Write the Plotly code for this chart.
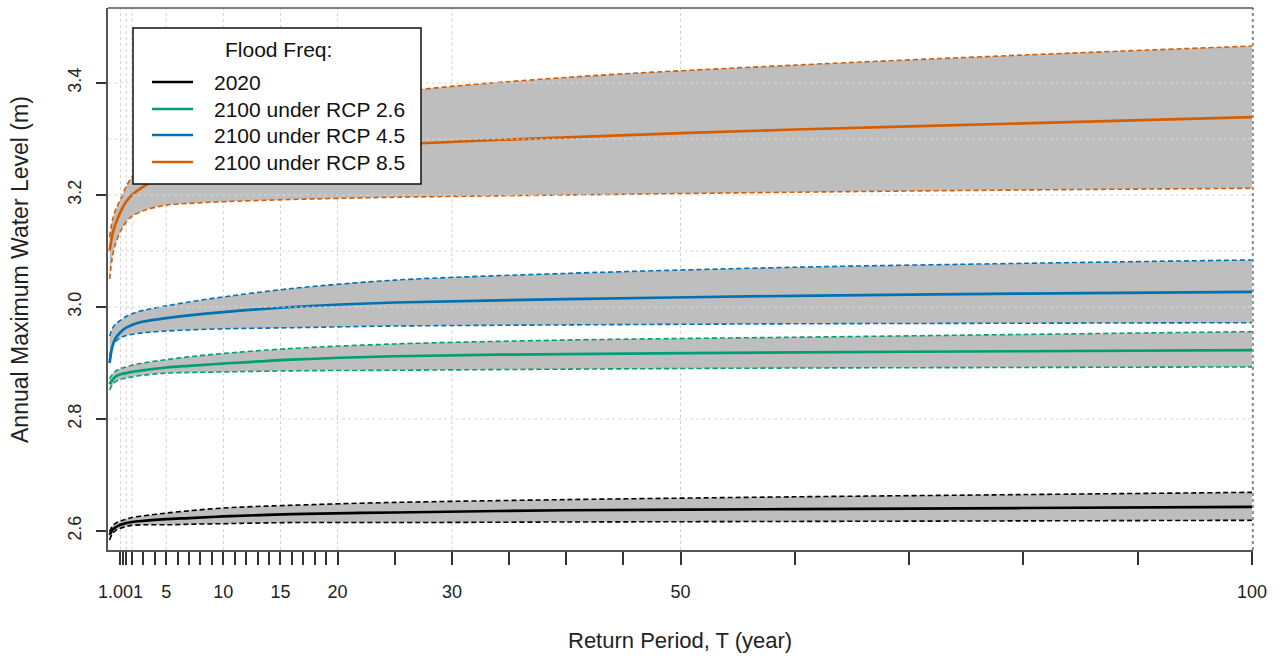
import plotly.graph_objects as go

# ---------------- data ----------------
T = [0.05, 0.3, 0.6, 1.0, 1.5, 2, 3, 5, 7, 10, 16, 25, 40, 60, 80, 100]

m2020 = [2.593, 2.602, 2.607, 2.611, 2.614, 2.616, 2.618, 2.621, 2.623, 2.626, 2.630, 2.633, 2.637, 2.639, 2.641, 2.643]
u2020 = [2.599, 2.609, 2.614, 2.618, 2.621, 2.624, 2.627, 2.632, 2.636, 2.641, 2.646, 2.651, 2.656, 2.661, 2.665, 2.669]
l2020 = [2.584, 2.595, 2.601, 2.605, 2.608, 2.610, 2.611, 2.611, 2.612, 2.613, 2.615, 2.615, 2.616, 2.617, 2.618, 2.619]

m26 = [2.862, 2.870, 2.876, 2.880, 2.882, 2.884, 2.887, 2.892, 2.895, 2.899, 2.906, 2.912, 2.916, 2.919, 2.921, 2.923]
u26 = [2.872, 2.880, 2.886, 2.890, 2.893, 2.896, 2.900, 2.906, 2.911, 2.917, 2.926, 2.934, 2.941, 2.946, 2.951, 2.956]
l26 = [2.852, 2.861, 2.867, 2.871, 2.873, 2.875, 2.878, 2.882, 2.883, 2.884, 2.886, 2.887, 2.889, 2.891, 2.892, 2.893]

m45 = [2.900, 2.930, 2.945, 2.955, 2.963, 2.968, 2.974, 2.980, 2.985, 2.991, 3.000, 3.008, 3.014, 3.020, 3.024, 3.027]
u45 = [2.948, 2.962, 2.970, 2.976, 2.983, 2.988, 2.994, 3.002, 3.009, 3.018, 3.033, 3.048, 3.060, 3.071, 3.078, 3.084]
l45 = [2.912, 2.930, 2.939, 2.945, 2.949, 2.951, 2.954, 2.957, 2.959, 2.961, 2.963, 2.966, 2.968, 2.970, 2.971, 2.972]

m85 = [3.100, 3.130, 3.150, 3.170, 3.188, 3.200, 3.215, 3.238, 3.250, 3.262, 3.277, 3.290, 3.303, 3.317, 3.328, 3.339]
u85 = [3.125, 3.155, 3.175, 3.192, 3.215, 3.232, 3.252, 3.280, 3.298, 3.318, 3.350, 3.383, 3.410, 3.432, 3.450, 3.466]
l85 = [3.050, 3.090, 3.115, 3.135, 3.152, 3.162, 3.172, 3.182, 3.185, 3.188, 3.192, 3.196, 3.200, 3.205, 3.209, 3.212]

series_names = ["2020", "2100 under RCP 2.6", "2100 under RCP 4.5", "2100 under RCP 8.5"]
series_colors = ["#000000", "#009E73", "#0072B2", "#D55E00"]

x_tick_vals = [1.001, 1.25, 1.5] + list(range(2, 21)) + [25, 30, 35, 40, 45, 50, 60, 70, 80, 90, 100]
x_labels = {1.001: "1.001", 5: "5", 10: "10", 15: "15", 20: "20", 30: "30", 50: "50", 100: "100"}
x_grid = [1.001, 1.5, 2, 5, 10, 15, 20, 30, 50, 100]
y_tick_vals = [2.6, 2.8, 3.0, 3.2, 3.4]
y_grid = [2.8, 3.0, 3.1, 3.2, 3.3, 3.4]

# ---------------- layout constants ----------------
W, H = 1280, 656
L, R, TOP, B = 108, 27, 8, 106
PW, PH = W - L - R, H - TOP - B
XR = [-0.09, 100.09]
YR = [2.566, 3.534]
FONT = "Liberation Sans, Arial, sans-serif"


def px(x):
    return (x - L) / PW


def py(y):
    return (H - B - y) / PH


fig = go.Figure()

groups = [(m2020, u2020, l2020), (m26, u26, l26), (m45, u45, l45), (m85, u85, l85)]
SM = 0.9
for (m, u, l), name, col in zip(groups, series_names, series_colors):
    fig.add_trace(go.Scatter(x=T, y=u, mode="lines", line=dict(width=0, shape="spline", smoothing=SM),
                             showlegend=False, hoverinfo="skip"))
    fig.add_trace(go.Scatter(x=T, y=l, mode="lines", fill="tonexty", fillcolor="#BEBEBE",
                             line=dict(width=0, shape="spline", smoothing=SM),
                             showlegend=False, hoverinfo="skip"))
for (m, u, l), name, col in zip(groups, series_names, series_colors):
    for bnd in (u, l):
        fig.add_trace(go.Scatter(x=T, y=bnd, mode="lines", showlegend=False,
                                 line=dict(color=col, width=1.6, dash="5px,3px",
                                           shape="spline", smoothing=SM)))
    fig.add_trace(go.Scatter(x=T, y=m, mode="lines", name=name, showlegend=False,
                             line=dict(color=col, width=2.7, shape="spline", smoothing=SM)))

shapes = []
# vertical grid (below)
for g in x_grid:
    shapes.append(dict(type="line", xref="x", yref="paper", x0=g, x1=g, y0=0, y1=1,
                       line=dict(color="#D0D0D0", width=1, dash="dot"), layer="below"))
# horizontal grid (above, faint)
for g in y_grid:
    shapes.append(dict(type="line", xref="paper", yref="y", x0=0, x1=1, y0=g, y1=g,
                       line=dict(color="#D8D8D8", width=1, dash="dot"), layer="above"))
# frame: top solid, right dotted
shapes.append(dict(type="line", xref="paper", yref="paper", x0=0, x1=1, y0=1, y1=1,
                   line=dict(color="#555555", width=1.5), layer="above"))
shapes.append(dict(type="line", xref="paper", yref="paper", x0=1, x1=1, y0=0, y1=1,
                   line=dict(color="#555555", width=1.2, dash="dot"), layer="above"))

# manual legend
shapes.append(dict(type="rect", xref="paper", yref="paper", x0=px(133), x1=px(421),
                   y0=py(184), y1=py(28), fillcolor="white",
                   line=dict(color="#111111", width=1.5), layer="above"))
rows = [82, 109, 135, 162]
annotations = []
for ry, name, col in zip(rows, series_names, series_colors):
    shapes.append(dict(type="line", xref="paper", yref="paper", x0=px(152), x1=px(193),
                       y0=py(ry), y1=py(ry), line=dict(color=col, width=2.7), layer="above"))
    annotations.append(dict(xref="paper", yref="paper", x=px(212), y=py(ry), text=name,
                            showarrow=False, xanchor="left", yanchor="middle",
                            font=dict(family=FONT, size=21, color="#111111")))
annotations.append(dict(xref="paper", yref="paper", x=px(278), y=py(50), text="Flood Freq:",
                        showarrow=False, xanchor="center", yanchor="middle",
                        font=dict(family=FONT, size=21, color="#111111")))
# axis titles
annotations.append(dict(xref="paper", yref="paper", x=px(680), y=py(640),
                        text="Return Period, T (year)", showarrow=False,
                        xanchor="center", yanchor="middle",
                        font=dict(family=FONT, size=22, color="#222222")))
annotations.append(dict(xref="paper", yref="paper", x=px(20), y=py(270),
                        text="Annual Maximum Water Level (m)", showarrow=False, textangle=-90,
                        xanchor="center", yanchor="middle",
                        font=dict(family=FONT, size=23, color="#222222")))

fig.update_layout(
    width=W, height=H,
    margin=dict(l=L, r=R, t=TOP, b=B, autoexpand=False),
    paper_bgcolor="white", plot_bgcolor="white",
    shapes=shapes, annotations=annotations,
    showlegend=False,
    font=dict(family=FONT, size=18, color="#222222"),
)
fig.update_xaxes(range=XR, autorange=False, showgrid=False, zeroline=False,
                 tickmode="array", tickvals=x_tick_vals,
                 ticktext=[x_labels.get(v, "") for v in x_tick_vals],
                 ticks="outside", ticklen=13, tickwidth=2, tickcolor="#333333",
                 showline=True, linecolor="#555555", linewidth=1.5,
                 tickfont=dict(family=FONT, size=18, color="#222222"),
                 ticklabelstandoff=12)
fig.update_yaxes(range=YR, autorange=False, showgrid=False, zeroline=False,
                 tickmode="array", tickvals=y_tick_vals,
                 ticktext=["2.6", "2.8", "3.0", "3.2", "3.4"],
                 ticks="outside", ticklen=10, tickwidth=1.5, tickcolor="#333333",
                 showline=True, linecolor="#555555", linewidth=1.5, tickangle=-90,
                 tickfont=dict(family=FONT, size=18, color="#222222"),
                 ticklabelstandoff=8)

fig.write_html("out.html")
